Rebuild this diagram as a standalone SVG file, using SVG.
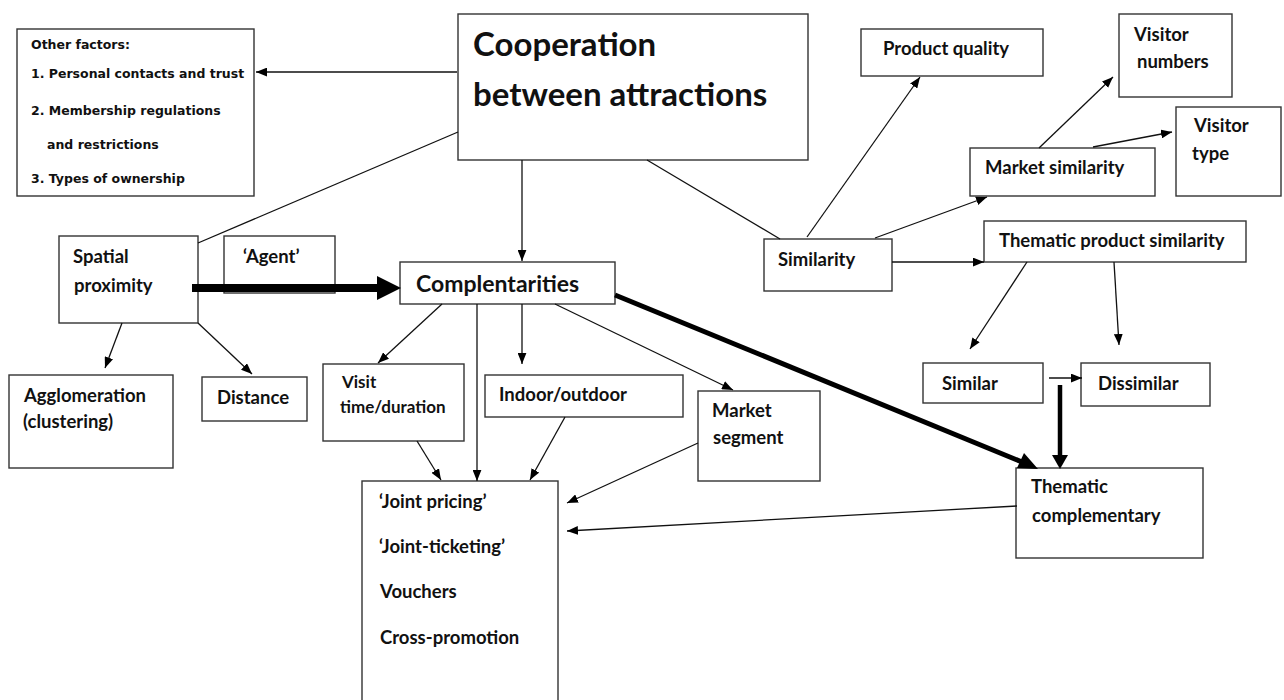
<svg xmlns="http://www.w3.org/2000/svg" width="1284" height="700" viewBox="0 0 1284 700">
<style>
.box{fill:#fff;stroke:#333;stroke-width:1.4}
.t{font-family:Lato,"Liberation Sans",sans-serif;font-weight:700;font-size:18.5px;fill:#111}
.sm{font-size:17px}
.big{font-size:33px}
.mid{font-size:23px}
.of{font-family:"DejaVu Sans","Liberation Sans",sans-serif;font-weight:700;font-size:12.5px;fill:#111}
.c{stroke:#111;stroke-width:1.3;fill:none}
.thick{stroke:#000;fill:none}
</style>
<defs>
<marker id="ah" viewBox="0 0 10 8" refX="10" refY="4" markerWidth="11" markerHeight="9" markerUnits="userSpaceOnUse" orient="auto">
<path d="M0,0 L10,4 L0,8 Z" fill="#000"/>
</marker>
</defs>
<rect width="1284" height="700" fill="#fff"/>

<g id="other-factors">
<rect class="box" x="17" y="29" width="237" height="167"/>
<text class="of" x="31" y="49">Other factors:</text>
<text class="of" x="31" y="78">1. Personal  contacts and trust</text>
<text class="of" x="31" y="115">2. Membership regulations</text>
<text class="of" x="47" y="149">and restrictions</text>
<text class="of" x="31" y="183">3. Types of ownership</text>
</g>

<g id="cooperation">
<rect class="box" x="458" y="14" width="350" height="146"/>
<text class="t big" x="473" y="56">Cooperation</text>
<text class="t big" x="473" y="106">between attractions</text>
</g>

<g id="spatial-proximity">
<rect class="box" x="59" y="236" width="139" height="87"/>
<text class="t" x="73" y="263">Spatial</text>
<text class="t" x="74" y="292">proximity</text>
</g>

<g id="agent">
<rect class="box" x="224" y="236" width="111" height="57"/>
<text class="t" x="243" y="263">‘Agent’</text>
</g>

<g id="complentarities">
<rect class="box" x="400" y="262" width="215" height="42"/>
<text class="t mid" x="416" y="292">Complentarities</text>
</g>

<g id="agglomeration">
<rect class="box" x="9" y="375" width="164" height="93"/>
<text class="t" x="24" y="402">Agglomeration</text>
<text class="t" x="23" y="428">(clustering)</text>
</g>

<g id="distance">
<rect class="box" x="202" y="377" width="105" height="44"/>
<text class="t" x="217" y="404">Distance</text>
</g>

<g id="visit-time">
<rect class="box" x="323" y="364" width="141" height="77"/>
<text class="t sm" x="342" y="388">Visit</text>
<text class="t sm" x="340" y="413">time/duration</text>
</g>

<g id="indoor-outdoor">
<rect class="box" x="485" y="375" width="198" height="42"/>
<text class="t" x="499" y="401">Indoor/outdoor</text>
</g>

<g id="market-segment">
<rect class="box" x="698" y="391" width="122" height="90"/>
<text class="t" x="712" y="417">Market</text>
<text class="t" x="713" y="444">segment</text>
</g>

<g id="joint">
<rect class="box" x="362" y="481" width="196" height="230"/>
<text class="t" x="379" y="508">‘Joint pricing’</text>
<text class="t" x="379" y="553">‘Joint-ticketing’</text>
<text class="t" x="380" y="598">Vouchers</text>
<text class="t" x="380" y="644">Cross-promotion</text>
</g>

<g id="similarity">
<rect class="box" x="764" y="239" width="128" height="52"/>
<text class="t" x="778" y="266">Similarity</text>
</g>

<g id="product-quality">
<rect class="box" x="861" y="29" width="182" height="47"/>
<text class="t" x="883" y="55">Product quality</text>
</g>

<g id="market-similarity">
<rect class="box" x="970" y="148" width="185" height="48"/>
<text class="t" x="985" y="174">Market similarity</text>
</g>

<g id="visitor-numbers">
<rect class="box" x="1119" y="14" width="113" height="83"/>
<text class="t" x="1134" y="41">Visitor</text>
<text class="t" x="1137" y="68">numbers</text>
</g>

<g id="visitor-type">
<rect class="box" x="1176" y="107" width="105" height="89"/>
<text class="t" x="1194" y="132">Visitor</text>
<text class="t" x="1192" y="160">type</text>
</g>

<g id="thematic-product-similarity">
<rect class="box" x="984" y="221" width="262" height="41"/>
<text class="t" x="999" y="247">Thematic product similarity</text>
</g>

<g id="similar">
<rect class="box" x="923" y="363" width="120" height="40"/>
<text class="t" x="942" y="390">Similar</text>
</g>

<g id="dissimilar">
<rect class="box" x="1081" y="363" width="129" height="43"/>
<text class="t" x="1098" y="390">Dissimilar</text>
</g>

<g id="thematic-complementary">
<rect class="box" x="1016" y="468" width="187" height="90"/>
<text class="t" x="1031" y="493">Thematic</text>
<text class="t" x="1032" y="522">complementary</text>
</g>

<g id="connectors">
<line class="c" x1="457" y1="72" x2="256" y2="72" marker-end="url(#ah)"/>
<line class="c" x1="458" y1="132" x2="198" y2="243"/>
<line class="c" x1="522" y1="160" x2="522" y2="261" marker-end="url(#ah)"/>
<line class="c" x1="647" y1="160" x2="780" y2="239"/>
<line class="c" x1="807" y1="237" x2="920" y2="77" marker-end="url(#ah)"/>
<line class="c" x1="875" y1="238" x2="987" y2="197" marker-end="url(#ah)"/>
<line class="c" x1="892" y1="262" x2="984" y2="262" marker-end="url(#ah)"/>
<line class="c" x1="1039" y1="148" x2="1113" y2="77" marker-end="url(#ah)"/>
<line class="c" x1="1093" y1="147" x2="1172" y2="132" marker-end="url(#ah)"/>
<line class="c" x1="1027" y1="262" x2="970" y2="349" marker-end="url(#ah)"/>
<line class="c" x1="1114" y1="262" x2="1119" y2="345" marker-end="url(#ah)"/>
<line class="c" x1="1049" y1="378" x2="1082" y2="378" marker-end="url(#ah)"/>
<line class="c" x1="122" y1="323" x2="105" y2="368" marker-end="url(#ah)"/>
<line class="c" x1="198" y1="323" x2="252" y2="374" marker-end="url(#ah)"/>
<line class="c" x1="442" y1="304" x2="378" y2="363" marker-end="url(#ah)"/>
<line class="c" x1="477" y1="304" x2="477" y2="481" marker-end="url(#ah)"/>
<line class="c" x1="522" y1="304" x2="522" y2="364" marker-end="url(#ah)"/>
<line class="c" x1="555" y1="304" x2="733" y2="390" marker-end="url(#ah)"/>
<line class="c" x1="417" y1="441" x2="441" y2="480" marker-end="url(#ah)"/>
<line class="c" x1="565" y1="417" x2="530" y2="480" marker-end="url(#ah)"/>
<line class="c" x1="698" y1="443" x2="567" y2="503" marker-end="url(#ah)"/>
<line class="c" x1="1017" y1="506" x2="567" y2="531" marker-end="url(#ah)"/>
<line class="thick" x1="192" y1="288" x2="380" y2="288" stroke-width="8"/>
<polygon points="377,276 401,288 377,300" fill="#000"/>
<line class="thick" x1="615" y1="295" x2="1022" y2="462" stroke-width="5"/>
<polygon points="1017,468 1038,469 1024,453" fill="#000"/>
<line class="thick" x1="1060" y1="385" x2="1060" y2="458" stroke-width="4.5"/>
<polygon points="1052,455 1060,469 1068,455" fill="#000"/>
</g>
</svg>
